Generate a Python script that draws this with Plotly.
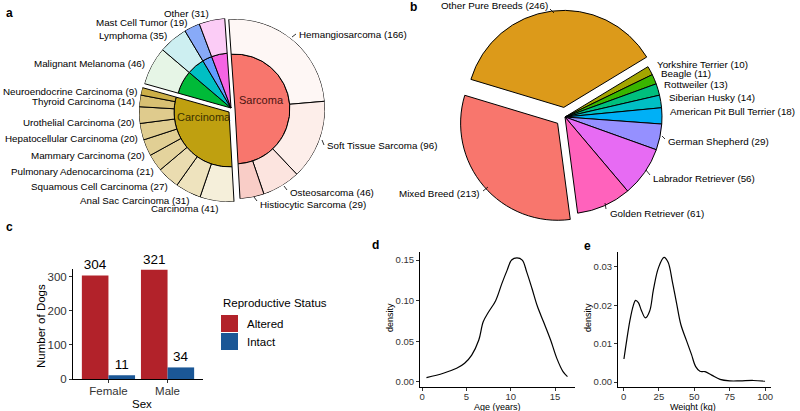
import plotly.graph_objects as go

W, H = 800, 411
FONT = "Liberation Sans, Arial, Helvetica, sans-serif"

# ---------------- Panel a data: cancer diagnoses ----------------
sarcoma_types = ["Hemangiosarcoma", "Soft Tissue Sarcoma", "Osteosarcoma", "Histiocytic Sarcoma"]
sarcoma_counts = [166, 96, 46, 29]
carcinoma_types = ["Carcinoma", "Anal Sac Carcinoma", "Squamous Cell Carcinoma",
                   "Pulmonary Adenocarcinoma", "Mammary Carcinoma", "Hepatocellular Carcinoma",
                   "Urothelial Carcinoma", "Thyroid Carcinoma", "Neuroendocrine Carcinoma"]
carcinoma_counts = [41, 31, 27, 21, 20, 20, 20, 14, 9]
other_types = ["Malignant Melanoma", "Lymphoma", "Mast Cell Tumor", "Other"]
other_counts = [46, 35, 19, 31]

# ---------------- Panel b data: breeds ----------------
breeds = ["Mixed Breed", "Other Pure Breeds", "Yorkshire Terrier", "Beagle", "Rottweiler",
          "Siberian Husky", "American Pit Bull Terrier", "German Shepherd",
          "Labrador Retriever", "Golden Retriever"]
breed_counts = [213, 246, 10, 11, 13, 14, 18, 29, 56, 61]

# ---------------- Panel c data ----------------
sexes = ["Female", "Male"]
altered = [304, 321]
intact = [11, 34]

# ---------------- Panel d data: age density ----------------
age_years = [0.5, 2.4, 3.9, 4.8, 5.6, 6.4, 6.9, 7.5, 8.3, 9.0, 9.6, 10.1, 10.7,
             11.3, 11.8, 12.4, 13.0, 13.7, 14.5, 15.2, 15.9, 16.4]
age_density = [0.0053, 0.0107, 0.0168, 0.023, 0.033, 0.0516, 0.074, 0.086, 0.100,
               0.121, 0.1376, 0.150, 0.1527, 0.150, 0.1355, 0.115, 0.0934, 0.074,
               0.0516, 0.029, 0.0127, 0.0065]

# ---------------- Panel e data: weight density ----------------
weight_kg = [0.3, 2.3, 4.6, 6.8, 8.5, 10.5, 12.5, 15.5, 18.5, 21.1, 24.6, 28.6, 31.5,
             34.5, 37.5, 40.5, 44.5, 48.0, 51.0, 54.0, 57.6, 62.3, 68.2, 75.0, 82.3,
             91.7, 100.0]
weight_density = [0.006, 0.011, 0.0162, 0.0198, 0.0213, 0.0207, 0.0188, 0.0167, 0.0185,
                  0.024, 0.0297, 0.0325, 0.0312, 0.0262, 0.0205, 0.0150, 0.0108, 0.0072,
                  0.0040, 0.0028, 0.0027, 0.0018, 0.0007, 0.0003, 0.0003, 0.0004, 0.0002]

# ---------------- styles ----------------
sarcoma_inner_color = "#F8766D"
carcinoma_inner_color = "#BFA010"
other_inner_colors = ["#00BA38", "#00BFC4", "#619CFF", "#F564E3"]
sarcoma_outer_colors = ["#FEF7F5", "#FDEEEA", "#FCE4DF", "#F9CDC7"]
carcinoma_outer_colors = ["#F5EFDA", "#EEE3BE", "#EADCB0", "#E4D39D", "#E1CF94",
                          "#E0CD90", "#DFCB8D", "#D8C073", "#CCAF48"]
other_outer_colors = ["#E6F5E6", "#CDEFF1", "#88AAF8", "#FBCCF6"]
breed_colors = ["#F8766D", "#DC9A1A", "#A3A500", "#39B600", "#00BF7D", "#00BFC4",
                "#00B0F6", "#9590FF", "#E76BF3", "#FF62BC"]
ALTERED_C = "#B2222A"
INTACT_C = "#1B5796"
TICK_C = "#333333"


def px(x):
    return x / W


def py(y):
    return 1 - y / H


fig = go.Figure()

# ---------------- Panel a: nested ring via barpolar ----------------
total = sum(sarcoma_counts) + sum(carcinoma_counts) + sum(other_counts)


def arcs(counts, start):
    th, wd = [], []
    a = start
    for c in counts:
        w = c * 360.0 / total
        th.append(a + w / 2)
        wd.append(w)
        a += w
    return th, wd


INNER = 0.61
s_start = 0.0
c_start = sum(sarcoma_counts) * 360.0 / total
o_start = (sum(sarcoma_counts) + sum(carcinoma_counts)) * 360.0 / total

groups = [
    ("polar", [sum(sarcoma_counts)], [sarcoma_inner_color], ["Sarcoma"], sarcoma_counts,
     sarcoma_outer_colors, sarcoma_types, s_start),
    ("polar2", [sum(carcinoma_counts)], [carcinoma_inner_color], ["Carcinoma"], carcinoma_counts,
     carcinoma_outer_colors, carcinoma_types, c_start),
    ("polar3", other_counts, other_inner_colors, other_types, other_counts,
     other_outer_colors, other_types, o_start),
]
for sub, icounts, icols, inames, ocounts, ocols, onames, start in groups:
    th, wd = arcs(icounts, start)
    fig.add_trace(go.Barpolar(theta=th, width=wd, r=[INNER] * len(th), base=0,
                              marker=dict(color=icols, line=dict(color="black", width=1)),
                              text=inames, hoverinfo="text", subplot=sub, showlegend=False))
    th, wd = arcs(ocounts, start)
    fig.add_trace(go.Barpolar(theta=th, width=wd, r=[1 - INNER] * len(th), base=INNER,
                              marker=dict(color=ocols, line=dict(color="black", width=1)),
                              text=onames, hoverinfo="text", subplot=sub, showlegend=False))

R_A = 90
centers = {"polar": (235, 109), "polar2": (229, 112), "polar3": (231, 108)}
polar_layout = {}
for sub, (cx, cy) in centers.items():
    polar_layout[sub] = dict(
        domain=dict(x=[px(cx - R_A), px(cx + R_A)], y=[py(cy + R_A), py(cy - R_A)]),
        bgcolor="rgba(0,0,0,0)",
        angularaxis=dict(rotation=94, direction="clockwise", visible=False,
                         showgrid=False, showline=False, ticks=""),
        radialaxis=dict(range=[0, 1], visible=False, showgrid=False, showline=False, ticks=""),
    )

# ---------------- Panel b: pie ----------------
R_B = 97
PULL = 0.1
bcx, bcy = 565, 117
half = R_B * (1 + PULL)
fig.add_trace(go.Pie(
    labels=breeds, values=breed_counts, sort=False, direction="clockwise", rotation=172.5,
    pull=[PULL if b in ("Mixed Breed", "Other Pure Breeds") else 0 for b in breeds],
    marker=dict(colors=breed_colors, line=dict(color="black", width=1)),
    textinfo="none", hoverinfo="label+value", showlegend=False,
    domain=dict(x=[px(bcx - half), px(bcx + half)], y=[py(bcy + half), py(bcy - half)]),
))

# ---------------- Panel c: bars ----------------
fig.add_trace(go.Bar(x=sexes, y=altered, name="Altered", marker=dict(color=ALTERED_C, line=dict(width=0)),
                     text=altered, textposition="outside", cliponaxis=False,
                     textfont=dict(size=13.5, color="black"), xaxis="x", yaxis="y", showlegend=False))
fig.add_trace(go.Bar(x=sexes, y=intact, name="Intact", marker=dict(color=INTACT_C, line=dict(width=0)),
                     text=intact, textposition="outside", cliponaxis=False,
                     textfont=dict(size=13.5, color="black"), xaxis="x", yaxis="y", showlegend=False))

# ---------------- Panel d / e: density lines ----------------
fig.add_trace(go.Scatter(x=age_years, y=age_density, mode="lines", line=dict(color="black", width=1.2, shape="spline"),
                         xaxis="x2", yaxis="y2", showlegend=False))
fig.add_trace(go.Scatter(x=weight_kg, y=weight_density, mode="lines", line=dict(color="black", width=1.2, shape="spline"),
                         xaxis="x3", yaxis="y3", showlegend=False))

axis_common = dict(showline=True, linecolor="black", linewidth=1, ticks="outside", ticklen=3,
                   tickcolor=TICK_C, showgrid=False, zeroline=False, automargin=False)

annotations = []


def ann(text, x, y, xanchor="center", size=9.8, color="black", bold=False, textangle=0):
    annotations.append(dict(text=("<b>%s</b>" % text) if bold else text, x=px(x), y=py(y),
                            xref="paper", yref="paper", xanchor=xanchor, yanchor="middle",
                            showarrow=False, textangle=textangle,
                            font=dict(size=size, color=color, family=FONT)))


# panel letters
ann("a", 9, 13, size=12, bold=True)
ann("b", 413, 7, size=12, bold=True)
ann("c", 9, 227, size=12, bold=True)
ann("d", 375, 245, size=12, bold=True)
ann("e", 587, 246, size=12, bold=True)

# axis titles
ann("Sex", 142, 404, size=11.5)
ann("Number of Dogs", 41, 326, size=11.5, textangle=-90)
ann("Age (years)", 497, 406.5, size=9)
ann("Weight (kg)", 693, 406.5, size=9)
ann("density", 390, 318, size=9, textangle=-90)
ann("density", 588, 318, size=9, textangle=-90)

# panel a inner labels
ann("Sarcoma", 261, 100, size=11, color="#4a1410")
ann("Carcinoma", 204, 117, size=11, color="#3a3000")

# panel a outer labels
a_left = [("Other", 31, 211, 14), ("Mast Cell Tumor", 19, 189, 22), ("Lymphoma", 35, 169, 35),
          ("Malignant Melanoma", 46, 147, 63), ("Neuroendocrine Carcinoma", 9, 140, 91),
          ("Thyroid Carcinoma", 14, 137, 101), ("Urothelial Carcinoma", 20, 137, 123),
          ("Hepatocellular Carcinoma", 20, 140, 138), ("Mammary Carcinoma", 20, 147, 155),
          ("Pulmonary Adenocarcinoma", 21, 156, 172), ("Squamous Cell Carcinoma", 27, 170, 186),
          ("Anal Sac Carcinoma", 31, 191, 200), ("Carcinoma", 41, 221, 208)]
for name, n, x, y in a_left:
    ann("%s (%d)" % (name, n), x, y, xanchor="right")
a_right = [("Hemangiosarcoma", 166, 297, 34), ("Soft Tissue Sarcoma", 96, 325, 145),
           ("Osteosarcoma", 46, 288, 192), ("Histiocytic Sarcoma", 29, 258, 204)]
for name, n, x, y in a_right:
    ann("%s (%d)" % (name, n), x, y, xanchor="left")

# panel b labels
b_pos = {"Yorkshire Terrier": (655, 64, "left"), "Beagle": (659, 73, "left"),
         "Rottweiler": (662, 85, "left"), "Siberian Husky": (667, 97, "left"),
         "American Pit Bull Terrier": (668, 111, "left"), "German Shepherd": (666, 141, "left"),
         "Labrador Retriever": (651, 178, "left"), "Golden Retriever": (608, 213, "left"),
         "Other Pure Breeds": (550, 6, "right"), "Mixed Breed": (482, 193, "right")}
for b, n in zip(breeds, breed_counts):
    x, y, anc = b_pos[b]
    ann("%s (%d)" % (b, n), x, y, xanchor=anc)

# panel c legend (manual)
ann("Reproductive Status", 221, 303, xanchor="left", size=11.5)
ann("Altered", 245, 324, xanchor="left", size=11.5)
ann("Intact", 245, 342, xanchor="left", size=11.5)
shapes = [
    dict(type="rect", xref="paper", yref="paper", x0=px(221), x1=px(238), y0=py(332), y1=py(315),
         fillcolor=ALTERED_C, line=dict(width=0)),
    dict(type="rect", xref="paper", yref="paper", x0=px(221), x1=px(238), y0=py(350), y1=py(333),
         fillcolor=INTACT_C, line=dict(width=0)),
]

# short label leader segments (label styling)
leaders = [((550, 9), (554, 13)), ((483, 191), (488, 187)), ((606, 209), (605, 203)),
           ((650, 175), (646, 170)), ((665, 139), (662, 136)),
           ((296, 34), (292, 37)), ((324, 145), (322, 140)), ((287, 190), (284, 186)),
           ((257, 201), (254, 197))]
for (x0, y0), (x1, y1) in leaders:
    shapes.append(dict(type="line", xref="paper", yref="paper", x0=px(x0), y0=py(y0),
                       x1=px(x1), y1=py(y1), line=dict(color="black", width=0.8)))

fig.update_layout(
    width=W, height=H, margin=dict(l=0, r=0, t=0, b=0, autoexpand=False),
    paper_bgcolor="white", plot_bgcolor="rgba(0,0,0,0)",
    font=dict(family=FONT, color="black"),
    showlegend=False,
    barmode="group", bargap=0.1, bargroupgap=0,
    polar=polar_layout["polar"], polar2=polar_layout["polar2"], polar3=polar_layout["polar3"],
    xaxis=dict(axis_common, domain=[px(73), px(203)], range=[-0.6, 1.6], type="category",
               tickfont=dict(size=11.5, color=TICK_C), ticklabelstandoff=-2),
    yaxis=dict(axis_common, domain=[py(379), py(269)], range=[0, 323], tickvals=[0, 100, 200, 300],
               tickfont=dict(size=11.5, color=TICK_C)),
    xaxis2=dict(axis_common, domain=[px(420), px(575)], range=[-0.23, 17.25], tickvals=[0, 5, 10, 15],
                tickfont=dict(size=9.5, color=TICK_C), anchor="y2", ticklabelstandoff=-2),
    yaxis2=dict(axis_common, domain=[py(387), py(252)], range=[-0.0062, 0.1599],
                tickvals=[0, 0.05, 0.10, 0.15], tickformat=".2f", anchor="x2",
                tickfont=dict(size=9.5, color=TICK_C)),
    xaxis3=dict(axis_common, domain=[px(618), px(771)], range=[-3.9, 104.2], tickvals=[0, 25, 50, 75, 100],
                tickfont=dict(size=9.5, color=TICK_C), anchor="y3", ticklabelstandoff=-2),
    yaxis3=dict(axis_common, domain=[py(387), py(252)], range=[-0.0013, 0.0339],
                tickvals=[0, 0.01, 0.02, 0.03], tickformat=".2f", anchor="x3",
                tickfont=dict(size=9.5, color=TICK_C)),
    annotations=annotations,
    shapes=shapes,
)

fig.write_html(
    "out.html",
    config={"displayModeBar": False},
    post_script="document.body.style.margin='0px';document.documentElement.style.overflow='hidden';",
)
